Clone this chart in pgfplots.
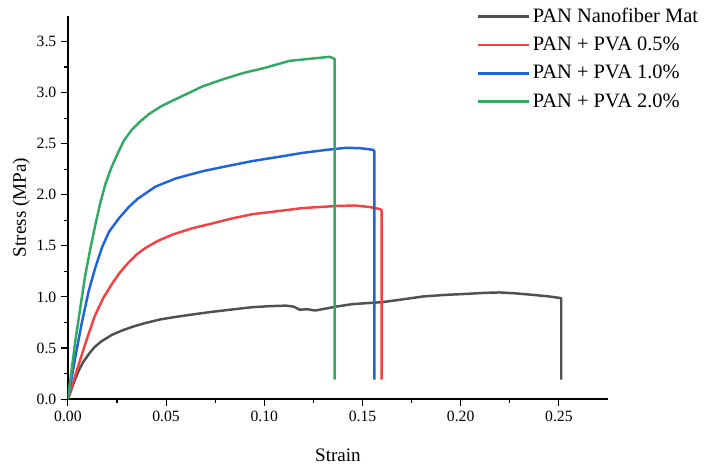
\documentclass[border=0pt]{standalone}
\usepackage{fontspec}
\setmainfont{Liberation Serif}
\usepackage{pgfplots}
\pgfplotsset{compat=1.18}

\definecolor{cgray}{RGB}{80,80,80}
\definecolor{cred}{RGB}{245,65,65}
\definecolor{cblue}{RGB}{30,100,220}
\definecolor{cgreen}{RGB}{50,170,100}

\begin{document}
\begin{tikzpicture}
\begin{axis}[
    scale only axis,
    width=396pt, height=281pt,
    xmin=0, xmax=0.275,
    ymin=0, ymax=3.75,
    axis x line*=bottom,
    axis y line*=left,
    axis line style={line width=1pt},
    xtick={0,0.05,...,0.25},
    ytick={0,0.5,...,3.5},
    minor x tick num=1,
    minor y tick num=1,
    tick align=outside,
    major tick length=5pt,
    minor tick length=3pt,
    every tick/.style={black, line width=0.8pt},
    tick label style={font=\fontsize{11.5}{13}\selectfont},
    /pgf/number format/assume math mode=true,
    xticklabel style={/pgf/number format/.cd, fixed, fixed zerofill, precision=2},
    yticklabel style={/pgf/number format/.cd, fixed, fixed zerofill, precision=1},
    scaled x ticks=false,
    xlabel={Strain},
    ylabel={Stress (MPa)},
    label style={font=\fontsize{14}{16}\selectfont},
    xlabel style={yshift=-13pt},
    ylabel style={yshift=-2pt},
    legend style={at={(rel axis cs:0.757,1.028)}, anchor=north west, draw=none, fill=none,
        font=\fontsize{15}{17}\selectfont, row sep=5.2pt, inner sep=0pt},
    legend cell align=left,
    legend image code/.code={\draw[#1, line width=2pt] (0pt,0pt) -- (37pt,0pt);},
    every axis plot/.append style={line width=1.8pt, line join=round},
]
\addplot[cgray] coordinates {
(0,0) (0.003,0.16) (0.0055,0.28) (0.008,0.37) (0.011,0.45) (0.0136,0.51) (0.017,0.565)
(0.0225,0.63) (0.028,0.675) (0.034,0.715) (0.0395,0.745) (0.047,0.78) (0.055,0.805)
(0.064,0.83) (0.0736,0.855) (0.084,0.878) (0.094,0.90) (0.103,0.91)
(0.111,0.915) (0.115,0.905) (0.118,0.875) (0.122,0.88) (0.126,0.867) (0.131,0.885)
(0.137,0.907) (0.145,0.93) (0.1605,0.95) (0.17,0.975) (0.181,1.005) (0.192,1.02)
(0.203,1.03) (0.212,1.04) (0.220,1.044) (0.228,1.035) (0.237,1.02) (0.245,1.005)
(0.2505,0.99) (0.2512,0.985) (0.2512,0.19)
};
\addplot[cred] coordinates {
(0,0) (0.0055,0.34) (0.0095,0.58) (0.0136,0.81) (0.018,0.99) (0.0225,1.13) (0.0265,1.24)
(0.031,1.34) (0.035,1.415) (0.0395,1.48) (0.046,1.55) (0.0532,1.61) (0.063,1.67)
(0.0736,1.72) (0.084,1.77) (0.094,1.81) (0.107,1.84) (0.1196,1.87) (0.1367,1.89)
(0.146,1.895) (0.1537,1.88) (0.1588,1.86) (0.1597,1.85) (0.1597,0.19)
};
\addplot[cblue] coordinates {
(0,0) (0.00375,0.41) (0.007,0.74) (0.0106,1.06) (0.014,1.29) (0.0174,1.487) (0.021,1.64)
(0.026,1.77) (0.031,1.88) (0.0355,1.96) (0.0446,2.08) (0.055,2.16) (0.0685,2.23)
(0.081,2.28) (0.094,2.33) (0.107,2.37) (0.1196,2.41) (0.132,2.44) (0.1418,2.46)
(0.149,2.455) (0.1554,2.44) (0.156,2.43) (0.156,0.19)
};
\addplot[cgreen] coordinates {
(0,0) (0.0037,0.56) (0.0065,0.92) (0.0089,1.22) (0.0115,1.48) (0.014,1.71) (0.0165,1.92)
(0.019,2.10) (0.022,2.26) (0.025,2.39) (0.0285,2.53) (0.0327,2.64) (0.037,2.72)
(0.0413,2.79) (0.047,2.86) (0.0532,2.92) (0.062,3.0) (0.0685,3.06) (0.079,3.13)
(0.089,3.19) (0.1,3.24) (0.1128,3.31) (0.123,3.33) (0.1333,3.35) (0.1358,3.33)
(0.1358,0.19)
};
\legend{PAN Nanofiber Mat, PAN + PVA 0.5\%, PAN + PVA 1.0\%, PAN + PVA 2.0\%}
\end{axis}
\path (current bounding box.north west) ++(-6pt,4pt) (current bounding box.south east) ++(6pt,0pt);
\end{tikzpicture}
\end{document}
